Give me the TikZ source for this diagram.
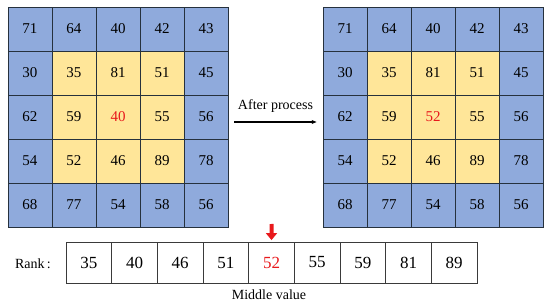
\documentclass[tikz,border=0pt]{standalone}
\usepackage{fontspec}
\setmainfont{Liberation Serif}
\usetikzlibrary{arrows.meta}
\definecolor{cellblue}{HTML}{8FAADC}
\definecolor{cellyellow}{HTML}{FFE699}
\definecolor{gridline}{HTML}{26313D}
\definecolor{boxline}{HTML}{3A3A3A}
\definecolor{midred}{HTML}{E8191C}
\begin{document}
\begin{tikzpicture}[x=1pt,y=-1pt,
  cell/.style={draw=gridline,line width=0.8pt,minimum size=44pt,inner sep=0pt,
    font=\rmfamily\fontsize{15}{15}\selectfont},
  rankcell/.style={draw=boxline,line width=0.8pt,minimum width=45.67pt,
    minimum height=41pt,inner sep=0pt,font=\rmfamily\fontsize{17}{17}\selectfont},
  label/.style={font=\rmfamily\fontsize{14}{14}\selectfont,inner sep=0pt}]
\useasboundingbox (0,0) rectangle (550,305);
% left and right grids
\foreach \side/\x/\mid in {L/30/40,R/345/52}
  \foreach \row [count=\r from 0] in {{71,64,40,42,43},{30,35,81,51,45},{62,59,0,55,56},{54,52,46,89,78},{68,77,54,58,56}}
    \foreach \v [count=\c from 0] in \row {
      \pgfmathtruncatemacro\inwin{(\r>0)&&(\r<4)&&(\c>0)&&(\c<4)}
      \ifnum\inwin=1 \def\fc{cellyellow}\else\def\fc{cellblue}\fi
      \ifnum\r=2 \ifnum\c=2
        \node[cell,fill=\fc,text=midred] (\side-\r-\c) at (\x+44*\c,29+44*\r) {\mid};
      \else
        \node[cell,fill=\fc] (\side-\r-\c) at (\x+44*\c,29+44*\r) {\v};
      \fi
      \else
        \node[cell,fill=\fc] (\side-\r-\c) at (\x+44*\c,29+44*\r) {\v};
      \fi
    }
% process arrow
\draw[line width=1.3pt,-{Stealth[length=5pt,width=4pt]}]
  ([xshift=6pt,yshift=-5pt]L-2-4.east) -- ([xshift=-6pt,yshift=-5pt]R-2-0.west);
\node[label] (proc) at (275.5,106) {After process};
% sorted values
\foreach \v [count=\i from 0] in {35,40,46,51,52,55,59,81,89} {
  \ifnum\i=4
    \node[rankcell,text=midred] (B-\i) at (88.83+45.67*\i,262.5) {\v};
  \else
    \node[rankcell] (B-\i) at (88.83+45.67*\i,262.5) {\v};
  \fi
}
\node[label] (rank) at (33,264) {Rank\,:};
\node[label] (midval) at (269,295) {Middle value};
\coordinate (redtop) at (271.5,224);
\draw[midred,line width=4pt,-{Triangle[length=7pt,width=11pt]}]
  (redtop) -- ([yshift=1.5pt]B-4.north);
\end{tikzpicture}
\end{document}
